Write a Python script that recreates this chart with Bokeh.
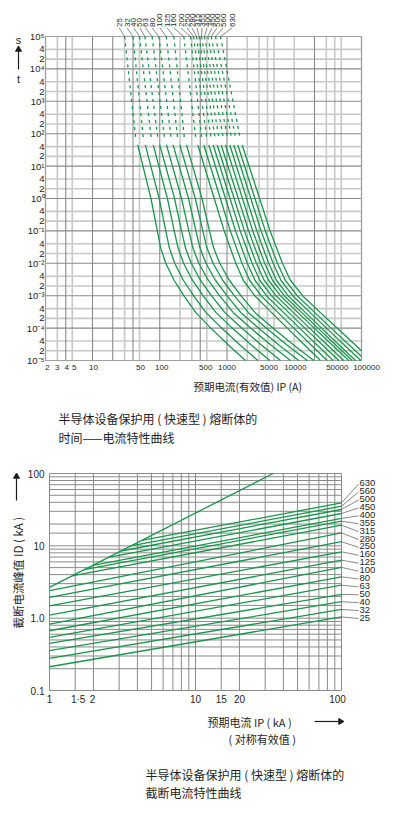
import math
from bokeh.plotting import figure
from bokeh.models import ColumnDataSource, Range1d
from bokeh.layouts import column
from bokeh.core.properties import value
from bokeh.embed import file_html
from bokeh.resources import INLINE

# ====================== DATA ======================
# Chart 1: time-current characteristics  (I in A, t in s)
ratings = ["25", "32", "40", "50", "63", "80", "100", "125", "160", "200",
           "250", "280", "315", "355", "400", "450", "500", "560", "630"]

# dashed (long-time) part: current at t = 1e5 s and at t = 70 s
t_dash = [1e5, 70]
I_dash_top = [30, 40, 50, 60, 77, 97, 125, 162, 228, 287, 318, 352, 384, 418, 463, 518, 582, 674, 800]
I_dash_bot = [44, 57, 75, 94, 118, 148, 185, 233, 344, 422, 501, 582, 668, 765, 887, 1027, 1179, 1351, 1571]

# solid part: current read at the listed times, plus the end point of each curve
t_solid = [45, 1, 0.1, 0.03, 0.01, 3e-3, 1e-3, 3e-4, 1e-4, 3e-5]
I_45s = [47, 61, 80, 100, 126, 158, 199, 250, 368, 452, 536, 623, 715, 819, 950, 1100, 1262, 1447, 1682]
I_1s = [74, 98, 130, 166, 211, 268, 338, 425, 646, 796, 949, 1109, 1278, 1472, 1699, 1959, 2261, 2603, 3053]
I_100ms = [92, 123, 164, 211, 271, 345, 437, 549, 908, 1120, 1339, 1571, 1814, 2096, 2413, 2775, 3212, 3711, 4378]
I_30ms = [103, 139, 187, 241, 311, 396, 503, 632, 1115, 1378, 1650, 1939, 2244, 2596, 2984, 3426, 3976, 4600, 5445]
I_10ms = [123, 167, 226, 294, 381, 486, 620, 779, 1351, 1671, 2004, 2360, 2735, 3170, 3638, 4172, 4850, 5622, 6673]
I_3ms = [163, 224, 306, 402, 526, 673, 862, 1082, 1748, 2165, 2603, 3072, 3567, 4143, 4748, 5429, 6329, 7350, 8769]
I_1ms = [228, 318, 441, 586, 774, 997, 1282, 1611, 2584, 3209, 3868, 4585, 5342, 6223, 7110, 8104, 9491, 11060, 13270]
I_300us = [344, 488, 688, 930, 1243, 1611, 2087, 2620, 4616, 5750, 6970, 8306, 9721, 11380, 12940, 14690, 17300, 20250, 24530]
I_100us = [575, 833, 1198, 1652, 2244, 2930, 3828, 4806, 7888, 9854, 11990, 14370, 16890, 19860, 22500, 25430, 30130, 35420, 43280]
I_30us = [1050, 1561, 2298, 3243, 4487, 5909, 7801, 9786, 14230, 17840, 21820, 26290, 31060, 36690, 41400, 46550, 55500, 65560, 80890]
I_end = [1884, 2871, 4328, 6243, 8795, 11680, 15570, 19530, 24560, 30890, 37940, 45970, 54540, 64710, 72720, 81420, 97610, 100000, 100000]
t_end = [1e-5] * 17 + [1.33e-5, 2.0e-5]

t_xticks = [2, 3, 4, 5, 10, 50, 100, 500, 1000, 5000, 10000, 50000, 100000]
t_xlabels = ["2", "3", "4", "5", "10", "50", "100", "500", "1000", "5000", "10000", "50000", "100000"]
t_yticks = [1e5, 4e4, 2e4, 1e4, 4e3, 2e3, 1e3, 400, 200, 100, 40, 20, 10, 4, 2, 1,
            0.4, 0.2, 0.1, 0.04, 0.02, 0.01, 4e-3, 2e-3, 1e-3, 4e-4, 2e-4, 1e-4, 4e-5, 2e-5, 1e-5]
t_ylabels = ["10⁵", "4", "2", "10⁴", "4", "2", "10³", "4", "2", "10²", "4", "2", "10¹", "4", "2", "10⁰",
             "4", "2", "10⁻¹", "4", "2", "10⁻²", "4", "2", "10⁻³", "4", "2", "10⁻⁴", "4", "2", "10⁻⁵"]
t_grid_x = [2, 3, 4, 5, 10, 20, 30, 40, 50, 100, 200, 300, 400, 500, 1000, 2000, 3000, 4000, 5000,
            10000, 20000, 30000, 40000, 50000, 100000]
t_grid_y = [m * 10 ** e for e in range(-5, 5) for m in (1, 2, 4)] + [1e5]

# Chart 2: cut-off current characteristics (kA)
cut_ratings = ["630", "560", "500", "450", "400", "355", "315", "280", "250",
               "160", "125", "100", "80", "63", "50", "40", "32", "25"]
Ip_start = [4.27, 3.61, 3.08, 2.53, 1.98, 1.73, 1.43, 1, 1, 1, 1, 1, 1, 1, 1, 1, 1, 1]
Id_start = [11.86, 9.99, 8.48, 6.92, 5.38, 4.69, 3.84, 2.4, 1.94, 1.48, 1.10, 0.83, 0.67, 0.543, 0.449, 0.355, 0.279, 0.213]
Ip_end = [100] * 18
Id_end = [39.3, 35.3, 31.8, 28.0, 23.9, 21.9, 19.3, 15.1, 11.4, 8.27, 6.34, 5.03, 3.73, 2.86, 2.13, 1.69, 1.32, 1.04]
steep_Ip = [1, 34]
steep_Id = [2.66, 100]

c_xticks = [1, 1.5, 2, 10, 15, 20, 100]
c_xlabels = ["1", "1·5", "2", "10", "15", "20", "100"]
c_yticks = [0.1, 1, 10, 100]
c_ylabels = ["0.1", "1.0", "10", "100"]
c_grid_x = [1, 1.5, 2, 3, 4, 5, 6, 7, 8, 9, 10, 15, 20, 30, 40, 50, 60, 70, 80, 90, 100]
c_grid_y = [0.1, 0.2, 0.3, 0.4, 0.5, 0.6, 0.7, 0.8, 0.9, 1, 1.5, 2, 3, 4, 5, 6, 7, 8, 9,
            10, 15, 20, 30, 40, 50, 60, 70, 80, 90, 100]

# ====================== STYLE / LAYOUT ======================
GREEN = "#17974a"
TXT = "#1e1e1e"
NUM_FONT = "Liberation Sans"
CJK_FONT = "Noto Sans CJK SC"
DARK = "#8a8a8a"
LIGHT = "#c8c8c8"

W = 386
TOP_H = 450
BOT_H = 385
# pixel geometry (page coordinates) of the two chart areas
T_L, T_R, T_T, T_B = 45, 361, 36, 360
B_L, B_R, B_T, B_B = 49, 341, 473, 690
T_X0, T_X1, T_Y0, T_Y1 = 2, 1e5, 1e-5, 1e5
B_X0, B_X1, B_Y0, B_Y1 = 1, 100, 0.1, 100


def lerp_log(lo, hi, f):
    return 10 ** (math.log10(lo) + f * (math.log10(hi) - math.log10(lo)))


def t_x(px):
    return lerp_log(T_X0, T_X1, (px - T_L) / (T_R - T_L))


def t_y(py):
    return lerp_log(T_Y1, T_Y0, (py - T_T) / (T_B - T_T))


def b_x(px):
    return lerp_log(B_X0, B_X1, (px - B_L) / (B_R - B_L))


def b_y(py):
    return lerp_log(B_Y1, B_Y0, (py - B_T) / (B_B - B_T))


def make_fig(xr, yr, h):
    p = figure(x_axis_type="log", y_axis_type="log", x_range=Range1d(*xr), y_range=Range1d(*yr),
               width=W, height=h, min_border=0, x_axis_location=None, y_axis_location=None,
               output_backend="svg", toolbar_location=None, outline_line_color=None,
               background_fill_color="white", border_fill_color="white")
    p.xgrid.visible = False
    p.ygrid.visible = False
    return p


def txt(p, xs, ys, texts, font, size, angle=0.0, align="left", baseline="middle", color=TXT, xoff=None):
    src = dict(x=list(xs), y=list(ys), text=list(texts))
    kw = {}
    if xoff is not None:
        src["xo"] = list(xoff)
        kw["x_offset"] = "xo"
    p.text("x", "y", text="text", source=ColumnDataSource(src), text_font=value(font),
           text_font_size=value(size), angle=angle, text_align=align, text_baseline=baseline,
           text_color=color, **kw)


def arrow_head(p, x, y, ang):
    p.scatter([x], [y], marker="triangle", size=6, angle=ang, fill_color=TXT, line_color=TXT)


# ====================== CHART 1 ======================
p1 = make_fig((t_x(0), t_x(W)), (t_y(TOP_H), t_y(0)), TOP_H)

x_dark = [4, 10, 20, 40, 100, 400, 1000, 20000]
y_dark = [10 ** e for e in range(-5, 6)]
xl = [v for v in t_grid_x if v not in x_dark]
yl = [v for v in t_grid_y if v not in y_dark]
xd = [v for v in t_grid_x if v in x_dark]
yd = [v for v in t_grid_y if v in y_dark]
p1.segment(x0=xl, y0=[T_Y0] * len(xl), x1=xl, y1=[T_Y1] * len(xl), line_color=LIGHT, line_width=1.6)
p1.segment(x0=[T_X0] * len(yl), y0=yl, x1=[T_X1] * len(yl), y1=yl, line_color=LIGHT, line_width=1.6)
p1.segment(x0=xd, y0=[T_Y0] * len(xd), x1=xd, y1=[T_Y1] * len(xd), line_color=DARK, line_width=1.1)
p1.segment(x0=[T_X0] * len(yd), y0=yd, x1=[T_X1] * len(yd), y1=yd, line_color=DARK, line_width=1.1)
p1.quad(left=[T_X0], right=[T_X1], bottom=[T_Y0], top=[T_Y1], fill_color=None, line_color="#a0a0a0", line_width=1)

dash_src = ColumnDataSource(dict(xs=[[a, b] for a, b in zip(I_dash_top, I_dash_bot)],
                                 ys=[t_dash for _ in ratings]))
p1.multi_line("xs", "ys", source=dash_src, line_color=GREEN, line_width=1.3, line_dash="3 4")
solid_cols = list(zip(I_45s, I_1s, I_100ms, I_30ms, I_10ms, I_3ms, I_1ms, I_300us, I_100us, I_30us, I_end))
solid_src = ColumnDataSource(dict(xs=[list(c) for c in solid_cols],
                                  ys=[t_solid + [te] for te in t_end]))
p1.multi_line("xs", "ys", source=solid_src, line_color=GREEN, line_width=1.3, line_join="round")

# tick labels
txt(p1, t_xticks, [t_y(367)] * len(t_xticks), t_xlabels, NUM_FONT, "8px", align="center",
    xoff=[2, 0, 1, 2, 1, 1, 2, -1, 0, -5, 1, -4, 5])
txt(p1, [t_x(44)] * len(t_yticks), t_yticks, t_ylabels, NUM_FONT, "9.5px", align="right")

# rating labels on top (rotated) with leader lines
lab_px = [118.7, 126.7, 133.3, 139.3, 145, 151.7, 159.3, 166.7, 173.3, 180.5, 186.5,
          191.5, 196.5, 201.5, 206.5, 211.5, 216.5, 222.5, 231.5]
txt(p1, [t_x(v) for v in lab_px], [t_y(26.5)] * len(ratings), ratings, NUM_FONT, "8px", angle=math.pi / 2)
p1.segment(x0=[t_x(v) for v in lab_px], y0=[t_y(27.5)] * len(ratings), x1=I_dash_top,
           y1=[t_dash[0]] * len(ratings), line_color="#555555", line_width=0.7)

# s / t marker
txt(p1, [t_x(18)], [t_y(39)], ["s"], NUM_FONT, "11px", align="center")
p1.segment(x0=[t_x(18)], y0=[t_y(69)], x1=[t_x(18)], y1=[t_y(50)], line_color=TXT, line_width=1.2)
arrow_head(p1, t_x(18), t_y(49), 0.0)
txt(p1, [t_x(18)], [t_y(78)], ["t"], NUM_FONT, "11px", align="center")

txt(p1, [t_x(193)], [t_y(386)], ["预期电流(有效值) IP  (A)"], CJK_FONT, "10.5px")
txt(p1, [t_x(58)], [t_y(418)], ["半导体设备保护用 ( 快速型 ) 熔断体的"], CJK_FONT, "12px")
txt(p1, [t_x(58)], [t_y(437)], ["时间——电流特性曲线"], CJK_FONT, "12px")

# ====================== CHART 2 ======================
p2 = make_fig((b_x(0), b_x(W)), (b_y(TOP_H + BOT_H), b_y(TOP_H)), BOT_H)

p2.segment(x0=c_grid_x, y0=[B_Y0] * len(c_grid_x), x1=c_grid_x, y1=[B_Y1] * len(c_grid_x),
           line_color=DARK, line_width=1)
p2.segment(x0=[B_X0] * len(c_grid_y), y0=c_grid_y, x1=[B_X1] * len(c_grid_y), y1=c_grid_y,
           line_color=DARK, line_width=1)

p2.segment(x0=Ip_start, y0=Id_start, x1=Ip_end, y1=Id_end, line_color=GREEN, line_width=1.3)
p2.line(steep_Ip, steep_Id, line_color=GREEN, line_width=1.3)

txt(p2, c_xticks, [b_y(698.5)] * len(c_xticks), c_xlabels, NUM_FONT, "10px", align="center",
    xoff=[0, 3, -1, 0, 0, 0, -4])
txt(p2, [b_x(44)] * len(c_yticks), c_yticks, c_ylabels, NUM_FONT, "10px", align="right")

lab_py = [482.7 + 7.9 * i for i in range(len(cut_ratings))]
txt(p2, [b_x(359)] * len(cut_ratings), [b_y(v) for v in lab_py], cut_ratings, NUM_FONT, "9.5px")
p2.segment(x0=Ip_end, y0=Id_end, x1=[b_x(358)] * len(cut_ratings),
           y1=[b_y(v + 1) for v in lab_py], line_color="#555555", line_width=0.7)

txt(p2, [b_x(17)], [b_y(628)], ["截断电流峰值 ID ( kA )"], CJK_FONT, "11.5px", angle=math.pi / 2)
p2.segment(x0=[b_x(16)], y0=[b_y(500)], x1=[b_x(16)], y1=[b_y(478)], line_color=TXT, line_width=1.2)
arrow_head(p2, b_x(16), b_y(476), 0.0)
txt(p2, [b_x(207)], [b_y(721)], ["预期电流  IP ( kA )"], CJK_FONT, "11px")
p2.segment(x0=[b_x(314)], y0=[b_y(721)], x1=[b_x(338)], y1=[b_y(721)], line_color=TXT, line_width=1.2)
arrow_head(p2, b_x(340), b_y(721), -math.pi / 2)
txt(p2, [b_x(228)], [b_y(738)], ["( 对称有效值 )"], CJK_FONT, "11px")
txt(p2, [b_x(145)], [b_y(774)], ["半导体设备保护用 ( 快速型 ) 熔断体的"], CJK_FONT, "12px")
txt(p2, [b_x(145)], [b_y(792)], ["截断电流特性曲线"], CJK_FONT, "12px")

layout = column(p1, p2, spacing=0)
open("out.html", "w").write(file_html(layout, INLINE))
